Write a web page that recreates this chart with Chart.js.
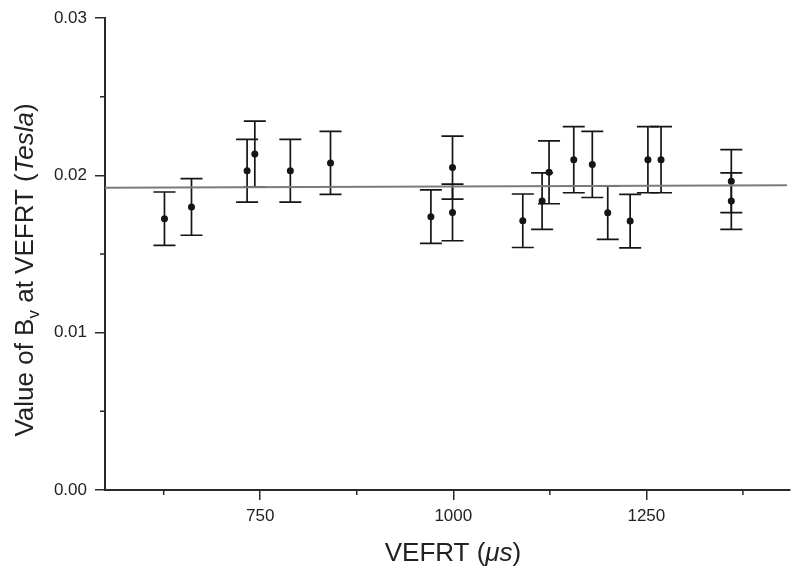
<!DOCTYPE html>
<html>
<head>
<meta charset="utf-8">
<script src="https://cdn.jsdelivr.net/npm/chart.js@4.4.1/dist/chart.umd.min.js"></script>
<style>
  html, body { margin: 0; padding: 0; background: #fff; }
  canvas { display: block; }
</style>
</head>
<body>
<canvas id="bvChart" width="794" height="572"></canvas>
<script>
// data
const vefrt = [626, 661, 733, 743, 789, 841, 971, 999, 999, 1090, 1115, 1124, 1156, 1180, 1200, 1229, 1252, 1269, 1360, 1360];
const bv    = [0.01725, 0.0180, 0.0203, 0.02136, 0.0203, 0.0208, 0.01738, 0.0205, 0.01765, 0.01712,
               0.01837, 0.0202, 0.0210, 0.0207, 0.01763, 0.0171, 0.0210, 0.0210, 0.01964, 0.01837];
const bvErr = [0.0017, 0.0018, 0.0020, 0.0021, 0.0020, 0.0020, 0.0017, 0.0020, 0.0018, 0.0017,
               0.0018, 0.0020, 0.0021, 0.0021, 0.0017, 0.0017, 0.0021, 0.0021, 0.0020, 0.0018];

// fitted line
const fitX = [549, 1432];
const fitY = [0.01922, 0.01938];

// ticks
const xMajor = [750, 1000, 1250];
const xMinor = [625, 875, 1125, 1375];
const yMajor = [0, 0.01, 0.02, 0.03];
const yMinor = [0.005, 0.015, 0.025];

const INK = '#151515';
const AXIS = '#2a2a2a';
const FONT = '"Liberation Sans", Arial, sans-serif';

// 1) error bars under the points
const errorBars = {
  id: 'errorBars',
  beforeDatasetsDraw(chart) {
    const { ctx, scales: { y } } = chart;
    const meta = chart.getDatasetMeta(1);
    ctx.save();
    ctx.strokeStyle = INK;
    ctx.lineWidth = 1.7;
    meta.data.forEach((pt, i) => {
      const top = y.getPixelForValue(bv[i] + bvErr[i]);
      const bot = y.getPixelForValue(bv[i] - bvErr[i]);
      ctx.beginPath();
      ctx.moveTo(pt.x, top); ctx.lineTo(pt.x, bot);
      ctx.moveTo(pt.x - 11, top); ctx.lineTo(pt.x + 11, top);
      ctx.moveTo(pt.x - 11, bot); ctx.lineTo(pt.x + 11, bot);
      ctx.stroke();
    });
    ctx.restore();
  }
};

// 2) minor ticks + axis titles with italic / subscript parts
function drawParts(ctx, parts) {
  let w = 0;
  parts.forEach(p => { ctx.font = p.font; p.w = ctx.measureText(p.t).width; w += p.w; });
  let x = -w / 2;
  parts.forEach(p => {
    ctx.font = p.font;
    ctx.fillText(p.t, x, p.dy || 0);
    x += p.w;
  });
}

const axisExtras = {
  id: 'axisExtras',
  afterDraw(chart) {
    const { ctx, scales: { x, y }, chartArea } = chart;
    ctx.save();
    ctx.strokeStyle = AXIS;
    ctx.lineWidth = 1.5;
    ctx.beginPath();
    xMinor.forEach(v => {
      const px = x.getPixelForValue(v);
      ctx.moveTo(px, chartArea.bottom); ctx.lineTo(px, chartArea.bottom + 5);
    });
    yMinor.forEach(v => {
      const py = y.getPixelForValue(v);
      ctx.moveTo(chartArea.left, py); ctx.lineTo(chartArea.left - 5, py);
    });
    ctx.stroke();

    ctx.fillStyle = '#222';
    ctx.textBaseline = 'middle';
    const normal = `26px ${FONT}`;
    const italic = `italic 26px ${FONT}`;
    const small = `17px ${FONT}`;

    ctx.save();
    ctx.translate(26, 270);
    ctx.rotate(-Math.PI / 2);
    drawParts(ctx, [
      { t: 'Value of B', font: normal },
      { t: 'v', font: small, dy: 8 },
      { t: ' at VEFRT (', font: normal },
      { t: 'Tesla', font: italic },
      { t: ')', font: normal }
    ]);
    ctx.restore();

    ctx.save();
    ctx.translate(453, 554);
    drawParts(ctx, [
      { t: 'VEFRT (', font: normal },
      { t: 'μs', font: italic },
      { t: ')', font: normal }
    ]);
    ctx.restore();
    ctx.restore();
  }
};

new Chart(document.getElementById('bvChart'), {
  data: {
    datasets: [
      {
        type: 'line',
        label: 'fit',
        data: fitX.map((v, i) => ({ x: v, y: fitY[i] })),
        borderColor: '#7a7a7a',
        borderWidth: 2,
        pointRadius: 0,
        fill: false
      },
      {
        type: 'scatter',
        label: 'Bv',
        data: vefrt.map((v, i) => ({ x: v, y: bv[i] })),
        backgroundColor: INK,
        borderWidth: 0,
        pointRadius: 3.5
      }
    ]
  },
  options: {
    responsive: false,
    animation: false,
    layout: { padding: { top: 18, right: 0, left: 0, bottom: 0 } },
    plugins: {
      legend: { display: false },
      tooltip: { enabled: false }
    },
    scales: {
      x: {
        type: 'linear',
        min: 549,
        max: 1436,
        afterBuildTicks: s => { s.ticks = xMajor.map(v => ({ value: v })); },
        afterFit: s => { s.height = 82; },
        ticks: {
          callback: v => String(v),
          color: '#222',
          font: { family: FONT, size: 17 },
          padding: 6,
          maxRotation: 0
        },
        grid: { drawOnChartArea: false, drawTicks: true, tickLength: 10, color: AXIS, lineWidth: 1.5 },
        border: { color: AXIS, width: 2 }
      },
      y: {
        min: 0,
        max: 0.03,
        afterBuildTicks: s => { s.ticks = yMajor.map(v => ({ value: v })); },
        afterFit: s => { s.width = 105; },
        ticks: {
          callback: v => v.toFixed(2),
          color: '#222',
          font: { family: FONT, size: 17 },
          padding: 8
        },
        grid: { drawOnChartArea: false, drawTicks: true, tickLength: 10, color: AXIS, lineWidth: 1.5 },
        border: { color: AXIS, width: 2 }
      }
    }
  },
  plugins: [errorBars, axisExtras]
});
</script>
</body>
</html>
